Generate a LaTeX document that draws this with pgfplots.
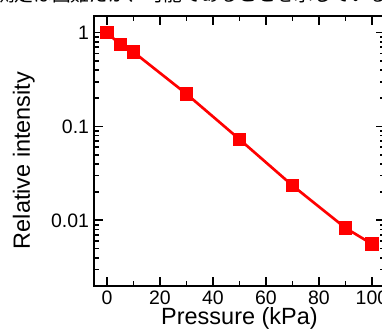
\documentclass[border=0pt]{standalone}
\usepackage{fontspec}
\setmainfont{Liberation Sans}
\newfontfamily\cjk{Noto Sans CJK JP}
\usepackage{pgfplots}
\pgfplotsset{compat=1.18}
\begin{document}
\begin{tikzpicture}
\begin{axis}[
  at={(70.3pt,32.25pt)}, anchor=south west,
  scale only axis, width=218.6pt, height=202.5pt,
  xmin=-5, xmax=105,
  ymode=log, ymin=0.002, ymax=1.5,
  xtick={0,20,40,60,80,100},
  minor xtick={10,30,50,70,90},
  ytick={0.01,0.1,1}, yticklabels={0.01,0.1,1},
  minor ytick={0.002,0.003,0.004,0.005,0.006,0.007,0.008,0.009,
               0.02,0.03,0.04,0.05,0.06,0.07,0.08,0.09,
               0.2,0.3,0.4,0.5,0.6,0.7,0.8,0.9},
  tick align=inside,
  xtick pos=both, ytick pos=both,
  major tick length=7pt, minor tick length=3.6pt,
  axis line style={line width=1.6pt},
  every tick/.style={black, line width=1.3pt},
  /pgf/number format/assume math mode=true,
  tick label style={font=\fontsize{14.6}{17}\selectfont},
  xlabel={Pressure (kPa)}, ylabel={Relative intensity},
  label style={font=\fontsize{17.6}{21}\selectfont},
  xlabel style={at={(axis description cs:0.5,0)}, anchor=center, yshift=-24pt},
  ylabel style={at={(axis description cs:-0.24,0.465)}, anchor=center},
  clip=false,
]
\addplot[red, line width=2pt, mark=square*, mark size=4pt, mark options={solid, fill=red}]
  coordinates {(0,1) (5,0.745) (10,0.62) (30,0.222) (50,0.073) (70,0.0235) (90,0.0083) (100,0.0056)};
\end{axis}
\node[anchor=base west, inner sep=0pt, font=\cjk\fontsize{14}{16}\selectfont] at (-3pt,245.6pt) {測定は困難だが、可能であることを示している。};
\pgfresetboundingbox
\path[use as bounding box] (0,0) rectangle (286.5pt,246.75pt);
\end{tikzpicture}
\end{document}
